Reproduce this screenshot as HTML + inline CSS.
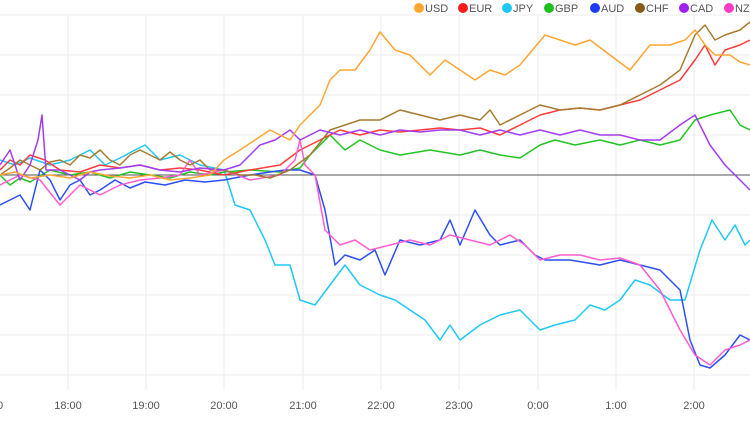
<!DOCTYPE html>
<html><head><style>body{margin:0;background:#fff}svg{display:block;font-family:"Liberation Sans",sans-serif}</style></head>
<body>
<svg width="750" height="430" viewBox="0 0 750 430">
<g stroke="#ebebeb" stroke-width="1">
<line x1="0" y1="15" x2="750" y2="15"/><line x1="0" y1="55" x2="750" y2="55"/><line x1="0" y1="95" x2="750" y2="95"/><line x1="0" y1="135" x2="750" y2="135"/><line x1="0" y1="215" x2="750" y2="215"/><line x1="0" y1="255" x2="750" y2="255"/><line x1="0" y1="295" x2="750" y2="295"/><line x1="0" y1="335" x2="750" y2="335"/><line x1="0" y1="375" x2="750" y2="375"/>
<line x1="68" y1="15" x2="68" y2="390"/><line x1="146" y1="15" x2="146" y2="390"/><line x1="224" y1="15" x2="224" y2="390"/><line x1="303" y1="15" x2="303" y2="390"/><line x1="381" y1="15" x2="381" y2="390"/><line x1="459" y1="15" x2="459" y2="390"/><line x1="538" y1="15" x2="538" y2="390"/><line x1="616" y1="15" x2="616" y2="390"/><line x1="694" y1="15" x2="694" y2="390"/>
</g>
<line x1="0" y1="175" x2="750" y2="175" stroke="#555" stroke-width="1"/>
<g fill="none" stroke-width="1.5" stroke-linejoin="round">
<polyline stroke="#1fc8f5" points="0,160 15,165 30,158 50,165 70,160 90,150 105,165 120,158 135,150 145,145 160,160 180,155 200,165 224,170 235,205 250,210 265,240 275,265 290,265 300,300 315,305 330,285 345,265 360,285 380,295 395,300 410,310 425,320 440,340 450,325 460,340 480,325 500,315 520,310 540,330 555,325 575,320 590,305 605,310 620,300 635,280 650,285 670,300 685,300 700,250 712,220 725,240 735,225 745,245 750,240"/>
<polyline stroke="#22c522" points="0,175 10,185 20,178 30,182 50,170 70,175 90,172 110,178 130,172 150,175 170,178 190,172 210,175 224,172 250,170 280,172 300,168 310,155 330,135 345,150 360,140 380,150 400,155 430,150 460,155 480,150 500,155 520,158 540,145 555,140 575,145 600,140 620,145 640,140 660,145 680,140 695,120 710,115 730,110 740,125 750,130"/>
<polyline stroke="#ff3b3b" points="0,170 10,160 20,165 30,155 45,160 60,170 80,172 100,165 120,168 140,165 160,170 180,168 200,170 224,175 250,170 280,165 300,150 320,140 340,130 360,135 380,130 400,132 420,130 440,128 460,130 480,128 500,135 520,125 540,115 560,110 580,108 600,110 620,105 640,100 660,90 680,80 695,60 705,45 715,65 725,50 740,45 750,40"/>
<polyline stroke="#2a4ff5" points="0,205 10,200 20,195 30,210 40,170 50,180 60,200 70,185 80,180 90,195 100,190 115,180 130,188 145,182 165,185 185,180 205,182 224,180 250,175 270,172 285,170 300,170 315,175 325,210 335,265 345,255 360,260 375,250 385,275 400,240 420,245 440,240 450,220 460,245 475,210 490,235 500,245 520,240 535,255 545,260 570,260 600,265 620,260 640,265 660,270 680,290 690,340 700,365 710,368 725,355 740,335 750,340"/>
<polyline stroke="#ff5ccf" points="0,185 20,175 40,180 60,205 80,185 100,195 120,185 140,180 160,178 180,175 190,160 200,175 224,170 250,180 280,175 295,160 300,140 305,165 315,175 325,230 340,245 355,240 370,250 390,245 410,240 430,245 450,235 470,240 490,245 510,235 525,245 540,260 560,255 580,255 600,260 620,258 640,265 660,290 680,330 695,355 710,365 725,350 740,345 750,340"/>
<polyline stroke="#a77a30" points="0,175 10,168 20,160 30,165 40,170 50,162 60,160 70,165 80,155 90,158 100,150 110,160 120,165 130,155 140,150 150,155 160,160 170,152 180,160 190,165 200,160 210,170 224,170 240,175 255,175 270,178 290,170 310,155 330,130 345,125 360,120 380,120 400,110 420,115 440,120 460,115 480,120 490,110 500,125 520,115 540,105 560,110 580,108 600,110 620,105 640,95 660,85 680,70 695,35 705,25 715,40 725,35 740,30 750,22"/>
<polyline stroke="#a33cf0" points="0,165 10,150 20,180 30,165 38,140 42,115 46,170 60,170 70,175 80,180 90,172 100,170 120,168 140,165 160,170 180,172 200,168 224,170 240,165 260,145 275,140 290,130 300,140 320,130 340,135 360,130 380,135 400,130 420,132 440,130 460,130 480,135 500,130 520,135 540,130 560,135 580,130 600,135 620,135 640,140 660,140 680,125 695,115 710,145 725,165 740,180 750,190"/>
<polyline stroke="#ffa532" points="0,175 15,172 30,178 50,175 70,178 90,172 110,176 130,178 150,175 170,180 190,178 210,175 224,160 240,150 255,140 270,130 290,140 300,125 320,105 330,80 340,70 355,70 370,50 380,32 395,50 410,55 430,75 445,60 460,70 475,80 490,70 505,75 520,65 545,35 560,40 575,45 590,40 610,55 630,70 650,45 670,45 685,40 695,30 705,45 715,55 730,55 740,62 750,65"/>
</g>
<g font-size="11" fill="#555" text-anchor="middle">
<text x="0" y="409">0</text><text x="68" y="409">18:00</text><text x="146" y="409">19:00</text><text x="224" y="409">20:00</text><text x="303" y="409">21:00</text><text x="381" y="409">22:00</text><text x="459" y="409">23:00</text><text x="538" y="409">0:00</text><text x="616" y="409">1:00</text><text x="694" y="409">2:00</text>
</g>
<g font-size="11" fill="#555">
<circle cx="419" cy="8" r="5" fill="#ffa532"/><text x="425" y="12">USD</text>
<circle cx="463" cy="8" r="5" fill="#ff1a1a"/><text x="469" y="12">EUR</text>
<circle cx="507" cy="8" r="5" fill="#1fc8f5"/><text x="513" y="12">JPY</text>
<circle cx="549" cy="8" r="5" fill="#1fbf1f"/><text x="555" y="12">GBP</text>
<circle cx="595" cy="8" r="5" fill="#1a3cf5"/><text x="601" y="12">AUD</text>
<circle cx="640" cy="8" r="5" fill="#8a5a1a"/><text x="646" y="12">CHF</text>
<circle cx="684" cy="8" r="5" fill="#a020f0"/><text x="690" y="12">CAD</text>
<circle cx="729" cy="8" r="5" fill="#ff3cc8"/><text x="735" y="12">NZD</text>
</g>
</svg>
</body></html>
